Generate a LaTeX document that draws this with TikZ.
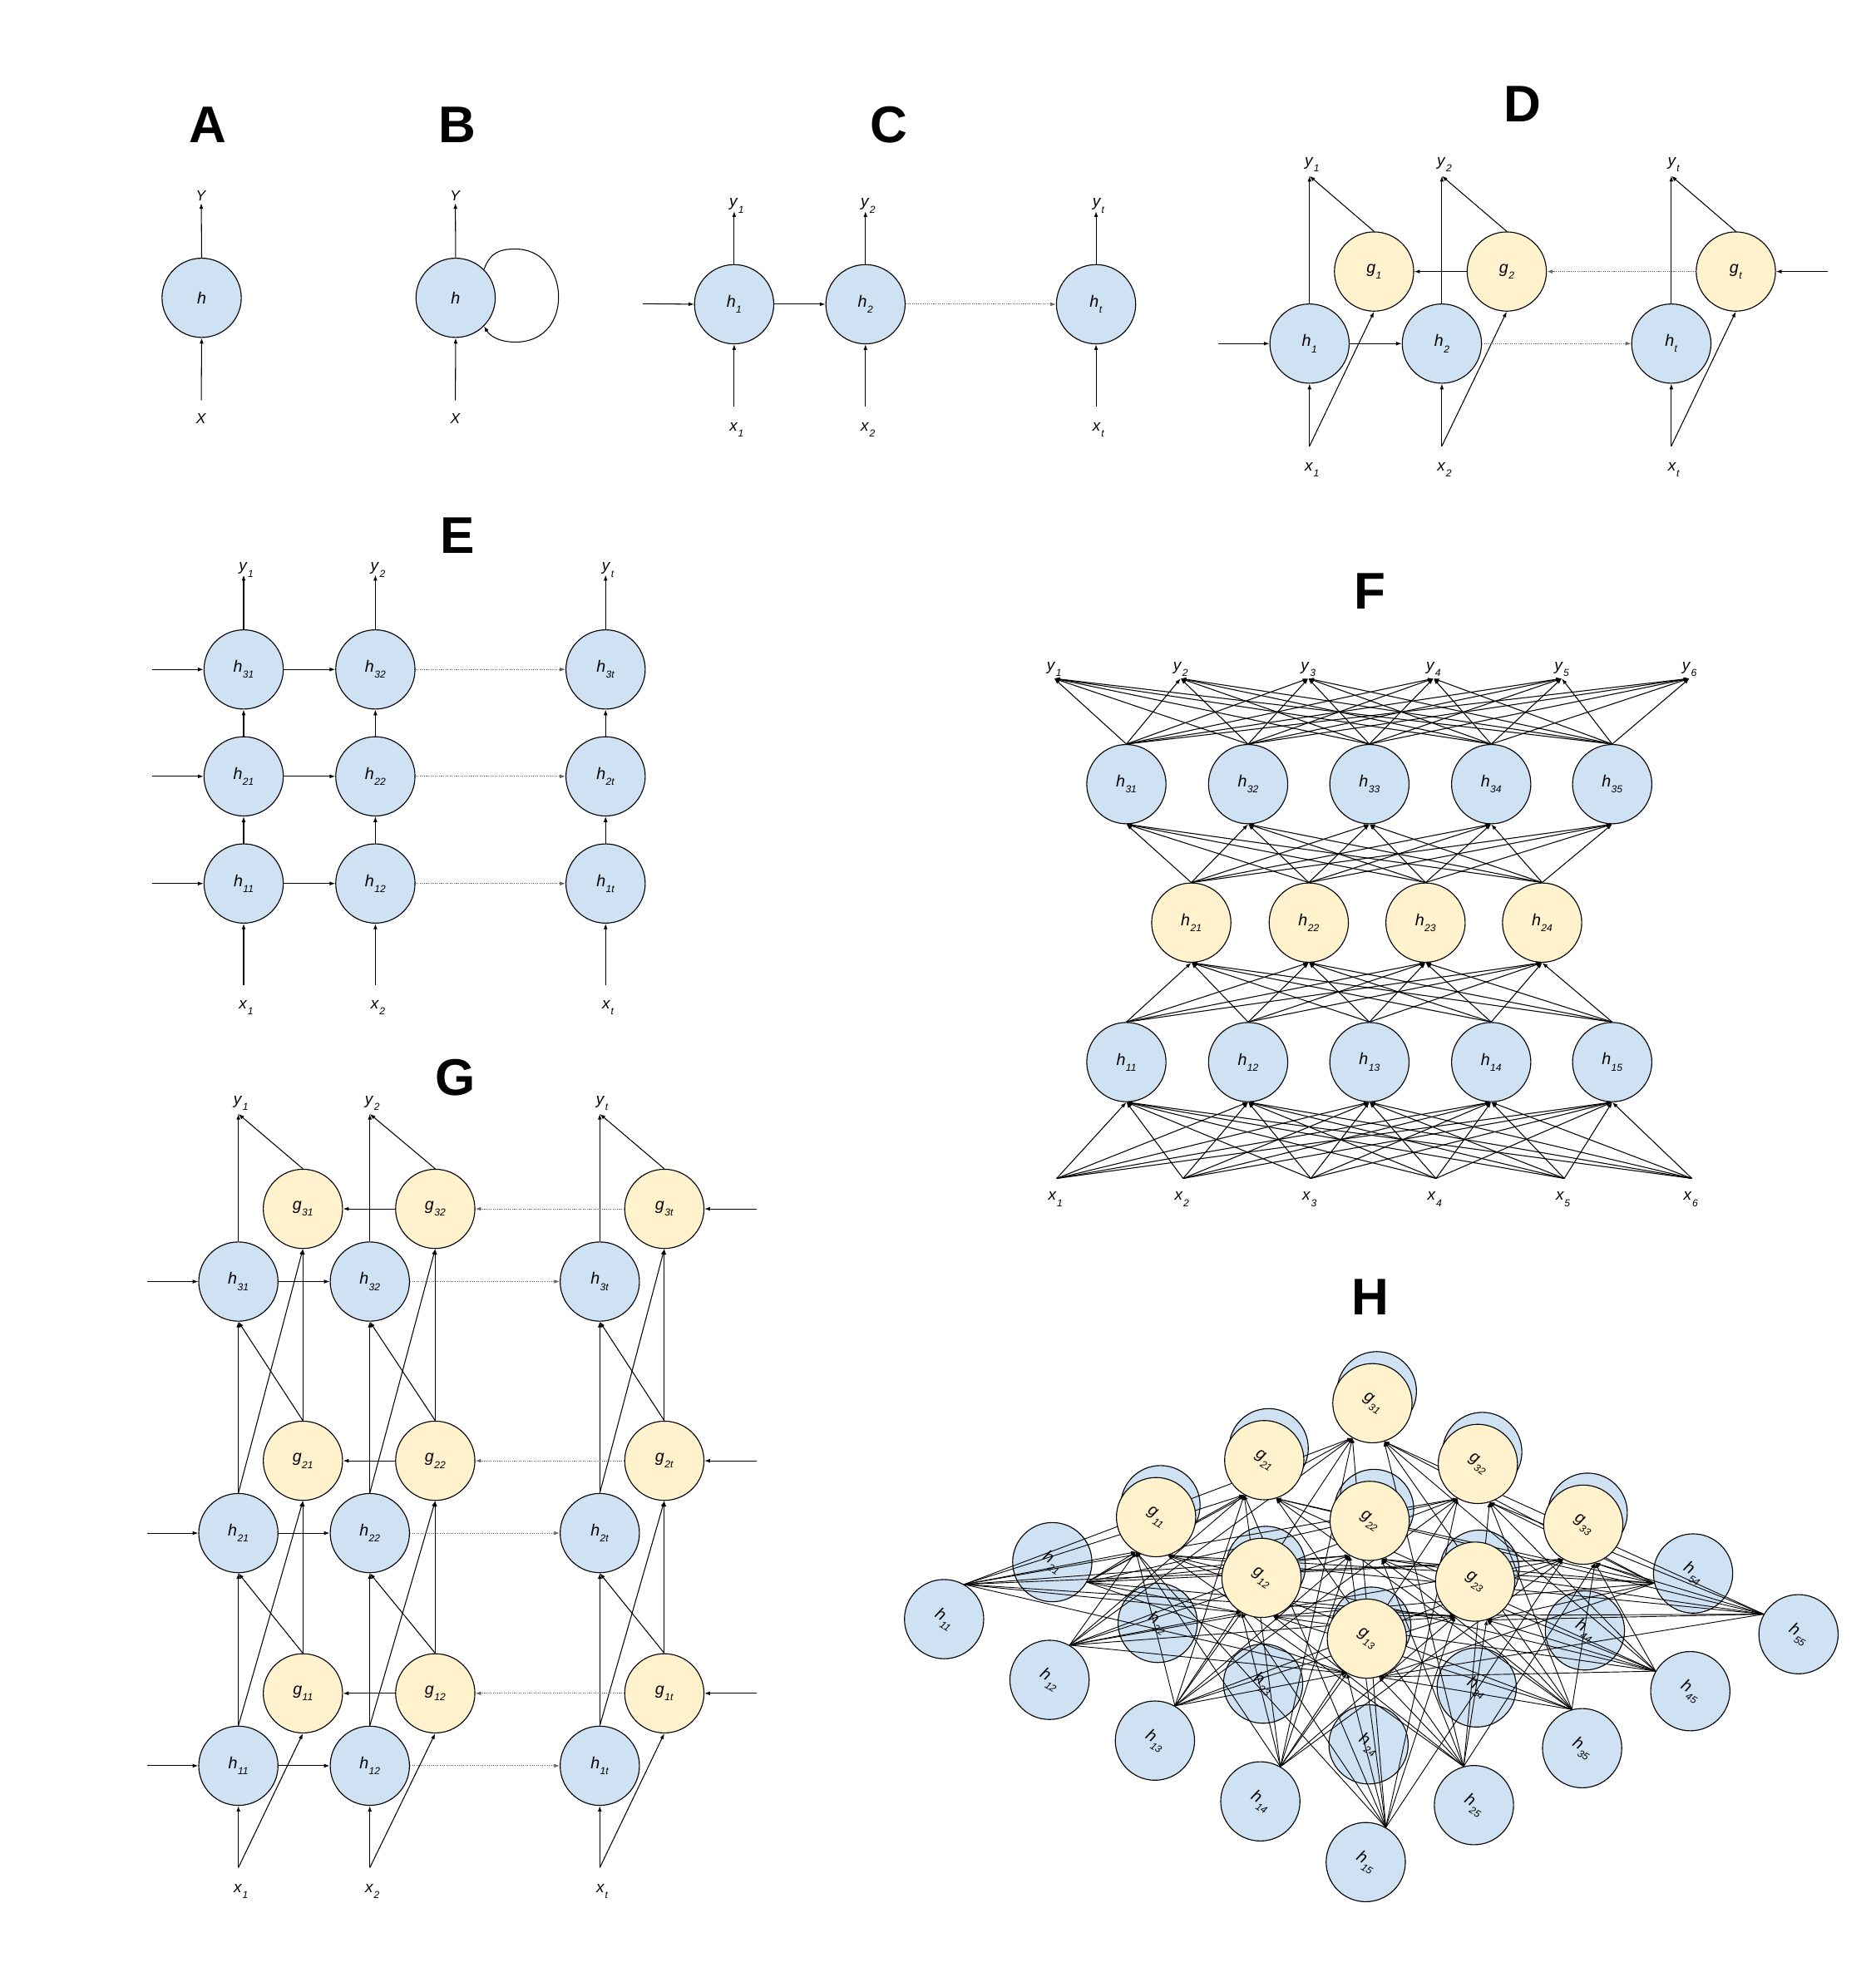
\documentclass[tikz,border=0pt]{standalone}
\usepackage{fontspec}
\usepackage{graphicx}
\setmainfont{Liberation Sans}
\usetikzlibrary{arrows.meta}
\definecolor{nblue}{HTML}{CFE2F3}
\definecolor{nyellow}{HTML}{FFF2CC}
\newcommand\sublab[2]{\textit{#1}\kern0.3pt\raisebox{-4.8pt}{\fontsize{8}{8}\selectfont\textit{#2}}}
\pgfdeclarelayer{bglayer}
\pgfdeclarelayer{hlayer}
\pgfdeclarelayer{linelayer}
\pgfsetlayers{bglayer,hlayer,linelayer,main}
\begin{document}
\begin{tikzpicture}[x=1pt,y=-1pt,
  hb/.style={circle,draw=black,line width=0.75pt,fill=nblue,minimum size=63pt,inner sep=0pt,font=\fontsize{13}{15}\selectfont},
  gy/.style={hb,fill=nyellow},
  lbl/.style={anchor=base,inner sep=0pt,font=\fontsize{12.5}{14}\selectfont},
  lblXY/.style={anchor=base,inner sep=0pt,font=\fontsize{11.5}{13}\selectfont},
  big/.style={inner sep=0pt,font=\fontsize{41}{41}\selectfont\bfseries},
  arr/.style={line width=0.7pt,-{Latex[length=4.5pt,width=3.2pt]}},
  dotarr/.style={arr,draw=black!60,densely dotted},
  harr/.style={line width=0.6pt,-{Latex[length=4pt,width=3pt]}},
]
\begin{pgfonlayer}{bglayer}
\fill[white] (0,0) rectangle (1491,1568);
\end{pgfonlayer}
\useasboundingbox (0,0) rectangle (1491,1568);

% ---------------- A ----------------
\node[big] (LA) at (165,99) {A};
\node[hb] (Ah) at (160.3,236.8) {\textit{h}};
\node[lblXY] (AY) at (160,159.7) {\textit{Y}};
\coordinate (AYp) at (160,161.5);
\node[lblXY] (AX) at (160,336.6) {\textit{X}};
\coordinate (AXp) at (160,318.3);
\draw[arr] (Ah.north) -- (AYp);
\draw[arr] (AXp) -- (Ah.south);

% ---------------- B ----------------
\node[big] (LB) at (363.5,99) {B};
\node[hb] (Bh) at (362.2,236.8) {\textit{h}};
\node[lblXY] (BY) at (362,159.7) {\textit{Y}};
\coordinate (BYp) at (362,161.5);
\node[lblXY] (BX) at (362,336.6) {\textit{X}};
\coordinate (BXp) at (362,318.3);
\draw[arr] (Bh.north) -- (BYp);
\draw[arr] (BXp) -- (Bh.south);
\draw[arr] (Bh.45) .. controls (390,200) and (398,198) .. (410,198)
  .. controls (430,198) and (444,215) .. (444,236)
  .. controls (444,258) and (430,272) .. (410,272)
  .. controls (398,272) and (390,268) .. (Bh.315);

% ---------------- C ----------------
\node[big] (LC) at (706.6,99) {C};
\foreach \c/\cl/\hx in {1/1/583.6,2/2/688,3/t/871.3}{
  \node[hb] (Ch\c) at (\hx,241.9) {\sublab{h}{\cl}};
  \node[lbl] (Cy\c) at (\hx+2,164.5) {\sublab{y}{\cl}};
  \coordinate (Cyp\c) at (\hx,168);
  \node[lbl] (Cx\c) at (\hx+2,342.7) {\sublab{x}{\cl}};
  \coordinate (Cxp\c) at (\hx,323.4);
  \draw[arr] (Ch\c.north) -- (Cyp\c);
  \draw[arr] (Cxp\c) -- (Ch\c.south);
}
\coordinate (Cin) at (511,241.5);
\draw[arr] (Cin) -- (Ch1.west);
\draw[arr] (Ch1) -- (Ch2);
\draw[dotarr] (Ch2) -- (Ch3);

% ---------------- D ----------------
\node[big] (LD) at (1210.3,83) {D};
\foreach \c/\cl/\hx/\gx in {1/1/1041/1092.3,2/2/1146.2/1197.8,3/t/1328.6/1379.9}{
  \node[hb] (Dh\c) at (\hx,273.2) {\sublab{h}{\cl}};
  \node[gy] (Dg\c) at (\gx,215.9) {\sublab{g}{\cl}};
  \node[lbl] (Dy\c) at (\hx+2,132) {\sublab{y}{\cl}};
  \coordinate (Dyp\c) at (\hx,139.9);
  \node[lbl] (Dx\c) at (\hx+2,374.6) {\sublab{x}{\cl}};
  \coordinate (Dxp\c) at (\hx,354.7);
  \draw[arr] (Dh\c.north) -- (Dyp\c);
  \draw[arr] (Dg\c.north) -- (Dyp\c);
  \draw[arr] (Dxp\c) -- (Dh\c.south);
  \draw[arr] (Dxp\c) -- (Dg\c.south);
}
\coordinate (Din) at (968.5,273.2);
\coordinate (Dgin) at (1453,215.9);
\draw[arr] (Din) -- (Dh1.west);
\draw[arr] (Dh1) -- (Dh2);
\draw[dotarr] (Dh2) -- (Dh3);
\draw[arr] (Dgin) -- (Dg3.east);
\draw[dotarr] (Dg3) -- (Dg2);
\draw[arr] (Dg2) -- (Dg1);

% ---------------- E ----------------
\node[big] (LE) at (363.6,426) {E};
\foreach \c/\cl/\hx in {1/1/193.7,2/2/298.4,3/t/481.4}{
  \foreach \r/\hy in {1/702.5,2/617.3,3/532.3}{
    \node[hb] (Eh\r\c) at (\hx,\hy) {\sublab{h}{\r\cl}};
  }
  \node[lbl] (Ey\c) at (\hx+2,454) {\sublab{y}{\cl}};
  \coordinate (Eyp\c) at (\hx,457.2);
  \node[lbl] (Ex\c) at (\hx+2,802) {\sublab{x}{\cl}};
  \coordinate (Exp\c) at (\hx,783.5);
  \draw[arr] (Exp\c) -- (Eh1\c.south);
  \draw[arr] (Eh1\c) -- (Eh2\c);
  \draw[arr] (Eh2\c) -- (Eh3\c);
  \draw[arr] (Eh3\c.north) -- (Eyp\c);
}
\foreach \r/\hy in {1/702.5,2/617.3,3/532.3}{
  \coordinate (Ein\r) at (121,\hy);
  \draw[arr] (Ein\r) -- (Eh\r1.west);
  \draw[arr] (Eh\r1) -- (Eh\r2);
  \draw[dotarr] (Eh\r2) -- (Eh\r3);
}

% ---------------- F ----------------
\node[big] (LF) at (1089,470) {F};
\foreach \m/\x in {1/895.4,2/992.2,3/1088.6,4/1185.4,5/1281.6}{
  \node[hb] (Fh3\m) at (\x,623.5) {\sublab{h}{3\m}};
  \node[hb] (Fh1\m) at (\x,844.5) {\sublab{h}{1\m}};
}
\foreach \n/\x in {1/947,2/1040.4,3/1133.2,4/1225.9}{
  \node[gy] (Fh2\n) at (\x,733.6) {\sublab{h}{2\n}};
}
\foreach \k/\x in {1/838,2/938.5,3/1040,4/1139.5,5/1241.5,6/1343}{
  \node[lbl] (Fy\k) at (\x,533) {\sublab{y}{\k}};
  \coordinate (Fyp\k) at (\x,539.5);
  \node[lbl] (Fx\k) at (\x+1,954.5) {\sublab{x}{\k}};
  \coordinate (Fxp\k) at (\x+2,937);
}
\foreach \k in {1,...,6}{\foreach \m in {1,...,5}{
  \draw[arr] (Fxp\k) -- (Fh1\m.south);
  \draw[arr] (Fh3\m.north) -- (Fyp\k);
}}
\foreach \m in {1,...,5}{\foreach \n in {1,...,4}{
  \draw[arr] (Fh1\m.north) -- (Fh2\n.south);
  \draw[arr] (Fh2\n.north) -- (Fh3\m.south);
}}

% ---------------- G ----------------
\node[big] (LG) at (362,857) {G};
\foreach \c/\cl/\hx/\gx in {1/1/189.5/240.8,2/2/294/346,3/t/476.8/528.1}{
  \foreach \r/\hy/\gyy in {1/1404/1346.4,2/1219/1161.5,3/1019/961.2}{
    \node[hb] (Gh\r\c) at (\hx,\hy) {\sublab{h}{\r\cl}};
    \node[gy] (Gg\r\c) at (\gx,\gyy) {\sublab{g}{\r\cl}};
  }
  \node[lbl] (Gy\c) at (\hx+2,878) {\sublab{y}{\cl}};
  \coordinate (Gyp\c) at (\hx,885.7);
  \node[lbl] (Gx\c) at (\hx+2,1505) {\sublab{x}{\cl}};
  \coordinate (Gxp\c) at (\hx,1485);
  \draw[arr] (Gxp\c) -- (Gh1\c.south);
  \draw[arr] (Gxp\c) -- (Gg1\c.south);
  \draw[arr] (Gh1\c.north) -- (Gh2\c.south);
  \draw[arr] (Gh1\c.north) -- (Gg2\c.south);
  \draw[arr] (Gg1\c.north) -- (Gg2\c.south);
  \draw[arr] (Gg1\c.north) -- (Gh2\c.south);
  \draw[arr] (Gh2\c.north) -- (Gh3\c.south);
  \draw[arr] (Gh2\c.north) -- (Gg3\c.south);
  \draw[arr] (Gg2\c.north) -- (Gg3\c.south);
  \draw[arr] (Gg2\c.north) -- (Gh3\c.south);
  \draw[arr] (Gh3\c.north) -- (Gyp\c);
  \draw[arr] (Gg3\c.north) -- (Gyp\c);
}
\foreach \r/\hy/\gyy in {1/1404/1346.4,2/1219/1161.5,3/1019/961.2}{
  \coordinate (Gin\r) at (116.7,\hy);
  \coordinate (Ggin\r) at (601.5,\gyy);
  \draw[arr] (Gin\r) -- (Gh\r1.west);
  \draw[arr] (Gh\r1) -- (Gh\r2);
  \draw[dotarr] (Gh\r2) -- (Gh\r3);
  \draw[arr] (Ggin\r) -- (Gg\r3.east);
  \draw[dotarr] (Gg\r3) -- (Gg\r2);
  \draw[arr] (Gg\r2) -- (Gg\r1);
}

% ---------------- H ----------------
\node[big] (LH) at (1089,1031) {H};
\begin{pgfonlayer}{hlayer}
\foreach \i in {1,...,5}{\foreach \j in {1,...,5}{
  \pgfmathtruncatemacro\hidden{(\i>2)&&(\j<4)}
  \ifnum\hidden=1 \def\hlabtext{}\else\def\hlabtext{\rotatebox{-32}{\sublab{h}{\i\j}}}\fi
  \node[hb] (Hh\i\j) at ({750.5+(\j-1)*83.8+(\i-1)*86},{1287.4+(\j-1)*48.3-(\i-1)*45.3}) {\hlabtext};
}}
\end{pgfonlayer}
\foreach \i in {1,2,3}{\foreach \j in {1,2,3}{
  \node[gy] (Hg\i\j) at ({750.5+(\j-1)*83.8+(\i+1)*86-3.5},{1287.4+(\j-1)*48.3-(\i+1)*45.3+9.5}) {\rotatebox{-32}{\sublab{g}{\i\j}}};
}}
\begin{pgfonlayer}{linelayer}
\foreach \e/\a/\b in {11/60/240,12/60/240,13/60/240,14/60/240,15/60/240,21/330/240,25/105/287,35/105/287,45/150/287,55/150/287,54/194/287}{
  \foreach \gi in {1,2,3}{\foreach \gj in {1,2,3}{
    \draw[harr] (Hh\e.\a) -- (Hg\gi\gj.\b);
  }}
}
\end{pgfonlayer}
\end{tikzpicture}
\end{document}
